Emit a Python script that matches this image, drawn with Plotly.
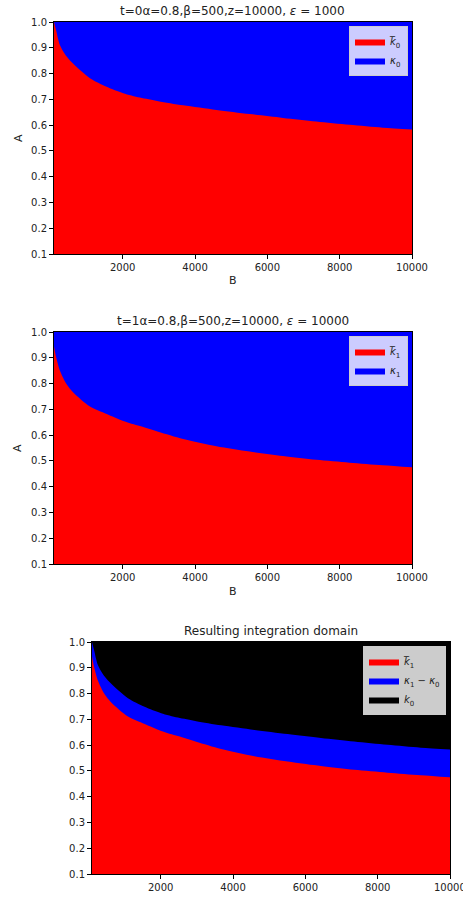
import plotly.graph_objects as go

# ---- data ----
B = [100, 155, 265, 450, 633, 1094, 1554, 2013, 2474, 2980, 3670, 4590, 5510, 6430, 7350, 8270, 9190, 10000]
k0_bound = [1.0, 0.97, 0.91, 0.866, 0.838, 0.782, 0.749, 0.724, 0.707, 0.693, 0.677, 0.659, 0.643, 0.628, 0.614, 0.601, 0.590, 0.583]
k1_bound = [0.944, 0.905, 0.850, 0.797, 0.765, 0.711, 0.682, 0.655, 0.635, 0.613, 0.585, 0.557, 0.536, 0.519, 0.504, 0.493, 0.483, 0.475]
top = [1.0] * len(B)

x_ticks = [2000, 4000, 6000, 8000, 10000]
x_ticktext = ["2000", "4000", "6000", "8000", "10000"]
y_ticks = [0.1, 0.2, 0.3, 0.4, 0.5, 0.6, 0.7, 0.8, 0.9, 1.0]
y_ticktext = ["0.1", "0.2", "0.3", "0.4", "0.5", "0.6", "0.7", "0.8", "0.9", "1.0"]

titles = [
    "t=0α=0.8,β=500,z=10000, <i>ε</i> = 1000",
    "t=1α=0.8,β=500,z=10000, <i>ε</i> = 10000",
    "Resulting integration domain",
]

W, H = 463, 897
FONT = "DejaVu Sans"

def px_x(p):
    return p / W

def px_y(p):
    return 1 - p / H

fig = go.Figure()

def area(x, y, color, name, xa, ya, legend, rank, shape="spline"):
    fig.add_trace(go.Scatter(
        x=x, y=y, mode="lines", fill="tozeroy", fillcolor=color,
        line=dict(width=0, color=color, shape=shape, smoothing=0.8), name=name,
        xaxis=xa, yaxis=ya, legend=legend, legendrank=rank,
        hoverinfo="skip",
    ))

# subplot 1
area(B, top, "blue", "<i>κ</i><sub>0</sub>", "x", "y", "legend", 2, "linear")
area(B, k0_bound, "red", "<i>k̅</i><sub>0</sub>", "x", "y", "legend", 1)
# subplot 2
area(B, top, "blue", "<i>κ</i><sub>1</sub>", "x2", "y2", "legend2", 2, "linear")
area(B, k1_bound, "red", "<i>k̅</i><sub>1</sub>", "x2", "y2", "legend2", 1)
# subplot 3
area(B, top, "black", "<i>k</i><sub>0</sub>", "x3", "y3", "legend3", 3, "linear")
area(B, k0_bound, "blue", "<i>κ</i><sub>1</sub> − <i>κ</i><sub>0</sub>", "x3", "y3", "legend3", 2)
area(B, k1_bound, "red", "<i>k̅</i><sub>1</sub>", "x3", "y3", "legend3", 1)

boxes = [  # left, right, top, bottom in px
    (54, 412, 22, 254),
    (54, 412, 332, 564),
    (92, 450, 642, 874),
]

axis_common = dict(
    showline=True, mirror=True, linecolor="black", linewidth=1,
    ticks="outside", ticklen=4, tickcolor="black", tickwidth=1,
    tickfont=dict(family=FONT, size=10, color="#222"),
    showgrid=False, zeroline=False, automargin=False,
)

layout = dict(
    width=W, height=H, autosize=False,
    margin=dict(l=0, r=0, t=0, b=0, autoexpand=False),
    paper_bgcolor="white", plot_bgcolor="white",
    font=dict(family=FONT, size=11, color="#222"),
)

for i, (l, r, t, b) in enumerate(boxes):
    sfx = "" if i == 0 else str(i + 1)
    layout["xaxis" + sfx] = dict(
        domain=[px_x(l), px_x(r)], anchor="y" + sfx, range=[100, 10000],
        tickvals=x_ticks, ticktext=x_ticktext, **axis_common,
    )
    layout["yaxis" + sfx] = dict(
        domain=[px_y(b), px_y(t)], anchor="x" + sfx, range=[0.1, 1.0],
        tickvals=y_ticks, ticktext=y_ticktext, **axis_common,
    )

legend_style = dict(
    bgcolor="rgba(255,255,255,0.8)", bordercolor="#cccccc", borderwidth=1,
    font=dict(family=FONT, size=10, color="#222"),
    xanchor="right", yanchor="top", itemwidth=30, tracegroupgap=0,
)
layout["legend"] = dict(x=px_x(408), y=px_y(26), **legend_style)
layout["legend2"] = dict(x=px_x(408), y=px_y(336), **legend_style)
layout["legend3"] = dict(x=px_x(446), y=px_y(646), **legend_style)

annotations = []
for i, (l, r, t, b) in enumerate(boxes):
    annotations.append(dict(
        text=titles[i], x=px_x((l + r) / 2), y=px_y(t - 11), xref="paper", yref="paper",
        xanchor="center", yanchor="middle", showarrow=False,
        font=dict(family=FONT, size=12, color="#222"),
    ))
for i in range(2):
    l, r, t, b = boxes[i]
    annotations.append(dict(
        text="A", x=px_x(18), y=px_y((t + b) / 2), xref="paper", yref="paper",
        xanchor="center", yanchor="middle", showarrow=False, textangle=-90,
        font=dict(family=FONT, size=11, color="#222"),
    ))
    annotations.append(dict(
        text="B", x=px_x((l + r) / 2), y=px_y(b + 27), xref="paper", yref="paper",
        xanchor="center", yanchor="middle", showarrow=False,
        font=dict(family=FONT, size=11, color="#222"),
    ))
# last x tick label of the bottom panel runs past the page edge (as in the reference)
annotations.append(dict(
    text=x_ticktext[-1], x=x_ticks[-1], xref="x3", y=px_y(boxes[2][3] + 13), yref="paper",
    xanchor="center", yanchor="middle", showarrow=False,
    font=dict(family=FONT, size=10, color="#222"),
))
layout["annotations"] = annotations
layout["showlegend"] = True

fig.update_layout(**layout)
fig.write_html("out.html")
